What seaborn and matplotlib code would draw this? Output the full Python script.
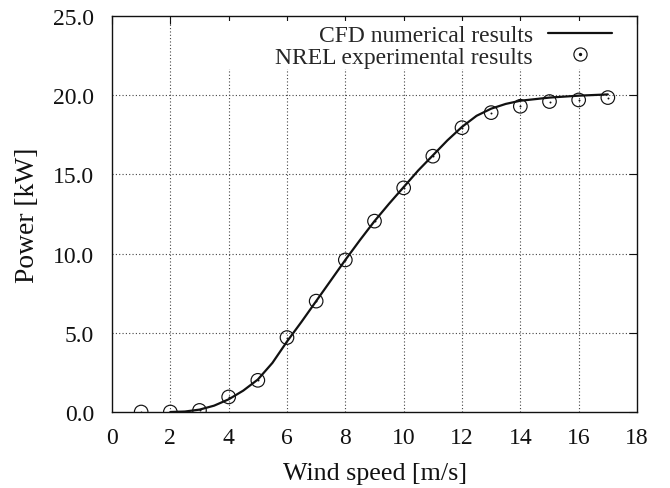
import numpy as np
import pandas as pd
import matplotlib
matplotlib.use("Agg")
import matplotlib.pyplot as plt
import seaborn as sns
from matplotlib.lines import Line2D
from matplotlib.patches import Rectangle
from matplotlib.legend_handler import HandlerTuple

# Экспериментальные данные NREL
wind_exp = [1, 2, 3, 4, 5, 6, 7, 8, 9, 10, 11, 12, 13, 14, 15, 16, 17]
power_exp = [0.0, 0.0, 0.1, 0.95, 2.0, 4.7, 7.0, 9.6, 12.05, 14.15, 16.15,
             17.95, 18.9, 19.3, 19.6, 19.7, 19.85]

# Кривая CFD
wind_cfd = [2, 2.5, 3, 3.5, 4, 4.5, 5, 5.5, 6, 6.5, 7, 7.5, 8, 8.5, 9, 9.5,
            10, 10.5, 11, 11.5, 12, 12.5, 13, 13.5, 14, 15, 16, 17]
power_cfd = [0.0, 0.03, 0.15, 0.4, 0.8, 1.35, 2.05, 3.1, 4.45, 5.7, 7.0, 8.3,
             9.6, 10.85, 12.05, 13.15, 14.2, 15.25, 16.2, 17.15, 18.0, 18.7,
             19.15, 19.45, 19.65, 19.85, 19.97, 20.05]

x_ticks = list(range(0, 19, 2))
y_ticks = [0, 5, 10, 15, 20, 25]
y_tick_labels = ["0.0", "5.0", "10.0", "15.0", "20.0", "25.0"]

exp_df = pd.DataFrame({"wind": wind_exp, "power": power_exp})
cfd_df = pd.DataFrame({"wind": wind_cfd, "power": power_cfd})

ink = "#111111"

sns.set_style("white")
plt.rcParams["font.family"] = ["Liberation Serif", "DejaVu Serif"]

fig = plt.figure(figsize=(6.7, 4.89), dpi=100)
ax = fig.add_axes([112 / 670, 76 / 489, 525 / 670, 396 / 489])

# Сетка (точечная), под подложкой легенды
for xv in x_ticks[1:-1]:
    ax.axvline(xv, linestyle=(0, (1, 2)), color="#444444", linewidth=0.8, zorder=0.5)
for yv in y_ticks[1:-1]:
    ax.axhline(yv, linestyle=(0, (1, 2)), color="#444444", linewidth=0.8, zorder=0.5)
# Белая подложка под легендой (как в gnuplot)
ax.add_patch(Rectangle((0.168, 0.866), 0.819, 0.121, transform=ax.transAxes,
                       facecolor="white", edgecolor="none", zorder=1))

sns.lineplot(data=cfd_df, x="wind", y="power", ax=ax, color=ink,
             linewidth=1.6, zorder=3)
sns.scatterplot(data=exp_df, x="wind", y="power", ax=ax, marker="o",
                s=95, facecolor="none", edgecolor=ink, linewidth=0.85,
                zorder=4)
sns.scatterplot(data=exp_df, x="wind", y="power", ax=ax, marker="o",
                s=2, color=ink, linewidth=0, zorder=4)

ax.set_xlim(0, 18)
ax.set_ylim(0, 25)
ax.set_xticks(x_ticks)
ax.set_yticks(y_ticks)
ax.set_yticklabels(y_tick_labels)
ax.tick_params(direction="in", length=6, width=0.8, top=True, right=True,
               labelsize=17, colors=ink)
ax.tick_params(axis="x", pad=11)
ax.tick_params(axis="y", pad=13)
for s in ax.spines.values():
    s.set_linewidth(1.0)
    s.set_color(ink)

ax.set_xlabel("Wind speed [m/s]", fontsize=18.7, color=ink, labelpad=10)
ax.set_ylabel("Power [kW]", fontsize=19.8, color=ink, labelpad=9)

h_line = Line2D([], [], color=ink, linewidth=1.6)
h_circ = Line2D([], [], marker="o", linestyle="none", markersize=9.5,
                markerfacecolor="none", markeredgecolor=ink,
                markeredgewidth=0.85)
h_dot = Line2D([], [], marker="o", linestyle="none", markersize=1.4,
               color=ink)
leg = ax.legend([h_line, (h_circ, h_dot)],
                ["CFD numerical results", "NREL experimental results"],
                handler_map={tuple: HandlerTuple(ndivide=1)},
                loc="upper right", bbox_to_anchor=(0.970, 1.002),
                markerfirst=False, frameon=False, fontsize=17,
                handlelength=2.7, handletextpad=0.65, labelspacing=0.0,
                borderpad=0.4, borderaxespad=0.0)
leg.set_zorder(5)

fig.savefig("out.png", dpi=100)
